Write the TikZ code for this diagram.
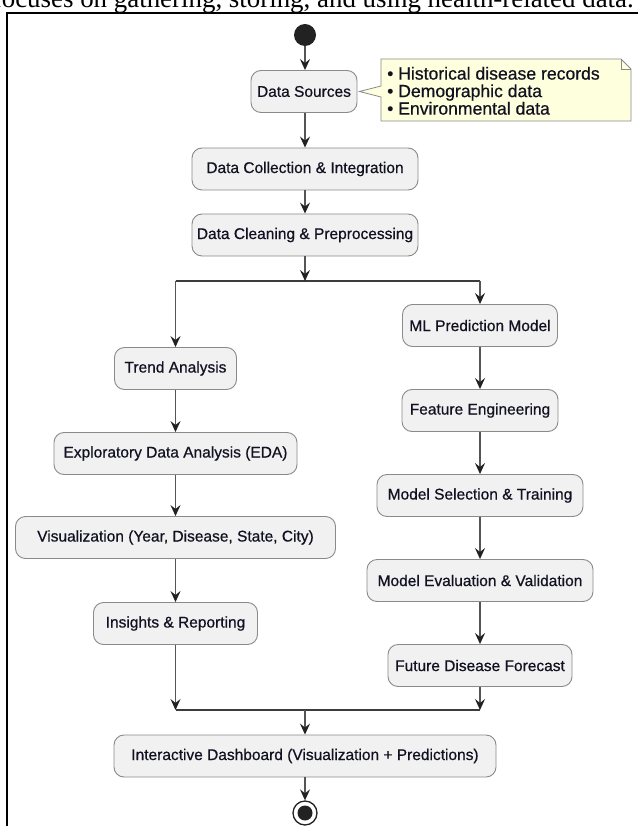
\documentclass[tikz,border=0pt]{standalone}
\usepackage{fontspec}
\setmainfont{Liberation Serif}
\newfontfamily\arialf[FakeBold=0.6]{Liberation Sans}
\usetikzlibrary{arrows.meta,calc}
\definecolor{boxfill}{HTML}{F1F1F1}
\definecolor{boxline}{HTML}{8A8A8A}
\definecolor{edgecol}{HTML}{555555}
\definecolor{tipcol}{HTML}{222222}
\definecolor{notefill}{HTML}{FEFFDD}
\definecolor{txtcol}{HTML}{111122}
\begin{document}
\begin{tikzpicture}[x=1pt,y=-1pt,
  act/.style={draw=boxline, line width=0.9pt, fill=boxfill, rounded corners=10pt,
    minimum height=42pt, inner sep=0pt, font=\arialf\fontsize{15.5}{18}\selectfont, text=txtcol},
  flow/.style={draw=edgecol, line width=1.2pt, -{Stealth[length=11pt,width=10pt,inset=4pt,color=tipcol]}},
  bar/.style={draw=edgecol!70!black, line width=2pt},
  notetext/.style={font=\arialf\fontsize{17.6}{17.5}\selectfont, text=txtcol, align=left, inner sep=0pt}]
\useasboundingbox (0,0) rectangle (637,826);
\fill[white] (0,0) rectangle (637,826);
\node[anchor=base east, font=\fontsize{26.9}{30}\selectfont, inner sep=0pt] (title) at (634,7.5) {focuses on gathering, storing, and using health-related data.};
\draw[line width=2pt] (7,840) -- (7,13.5) -- (650,13.5);

% start / end
\node[circle, fill=tipcol, minimum size=22pt, inner sep=0pt] (start) at (305,35) {};
\node[circle, draw=tipcol, line width=1.3pt, fill=white, minimum size=24pt, inner sep=0pt] (end) at (305,813) {};
\node[circle, fill=tipcol, minimum size=15pt, inner sep=0pt] (enddot) at (end) {};

% main column
\node[act, minimum width=106pt] (ds) at (304,91.5) {Data Sources};
\node[act, minimum width=226pt] (dc) at (305,169) {Data Collection \& Integration};
\node[act, minimum width=226pt] (clean) at (305,235) {Data Cleaning \& Preprocessing};

% left column
\node[act, minimum width=122pt] (trend) at (175.5,368.5) {Trend Analysis};
\node[act, minimum width=243pt] (eda) at (175.5,453.5) {Exploratory Data Analysis (EDA)};
\node[act, minimum width=320pt] (vis) at (175.5,537.5) {Visualization (Year, Disease, State, City)};
\node[act, minimum width=164pt] (ins) at (175.5,623.5) {Insights \& Reporting};

% right column
\node[act, minimum width=155pt] (ml) at (480,325.5) {ML Prediction Model};
\node[act, minimum width=156pt] (fe) at (480,410.5) {Feature Engineering};
\node[act, minimum width=206pt] (ms) at (480,495.5) {Model Selection \& Training};
\node[act, minimum width=226pt] (me) at (480,580.5) {Model Evaluation \& Validation};
\node[act, minimum width=184pt] (ff) at (480,665.5) {Future Disease Forecast};

\node[act, minimum width=382pt] (dash) at (305,756) {Interactive Dashboard (Visualization + Predictions)};

% note
\draw[draw=boxline, fill=notefill, line width=0.8pt]
  (381,59) -- (621,59) -- (631,69) -- (631,121) -- (381,121) -- (381,97)
  -- ($(ds.east)+(2,0)$) -- (381,86) -- cycle;
\draw[draw=boxline, line width=0.8pt] (621,59) -- (621,69) -- (631,69);
\node[notetext, anchor=west] (note) at (387,90.8)
  {• Historical disease records\\• Demographic data\\• Environmental data};

% fork / join
\coordinate (forkL) at (175.5,281);
\coordinate (forkR) at (480,281);
\coordinate (joinL) at (175.5,710);
\coordinate (joinR) at (480,710);
\coordinate (joinM) at (305,710);
\draw[bar] (forkL) -- (forkR);
\draw[bar] (joinL) -- (joinR);

% connectors
\draw[flow] (start) -- (start |- ds.north);
\draw[flow] (ds.south -| dc) -- (dc.north);
\draw[flow] (dc) -- (clean);
\draw[flow] (clean.south) -- (clean.south |- forkL);
\draw[flow] (forkL) -- (trend.north);
\draw[flow] (forkR) -- (ml.north);
\draw[flow] (trend) -- (eda);
\draw[flow] (eda) -- (vis);
\draw[flow] (vis) -- (ins);
\draw[flow] (ml) -- (fe);
\draw[flow] (fe) -- (ms);
\draw[flow] (ms) -- (me);
\draw[flow] (me) -- (ff);
\draw[flow] (ins.south) -- (joinL);
\draw[flow] (ff.south) -- (joinR);
\draw[flow] (joinM) -- (dash.north);
\draw[flow] (dash.south) -- (end.north);
\end{tikzpicture}
\end{document}
